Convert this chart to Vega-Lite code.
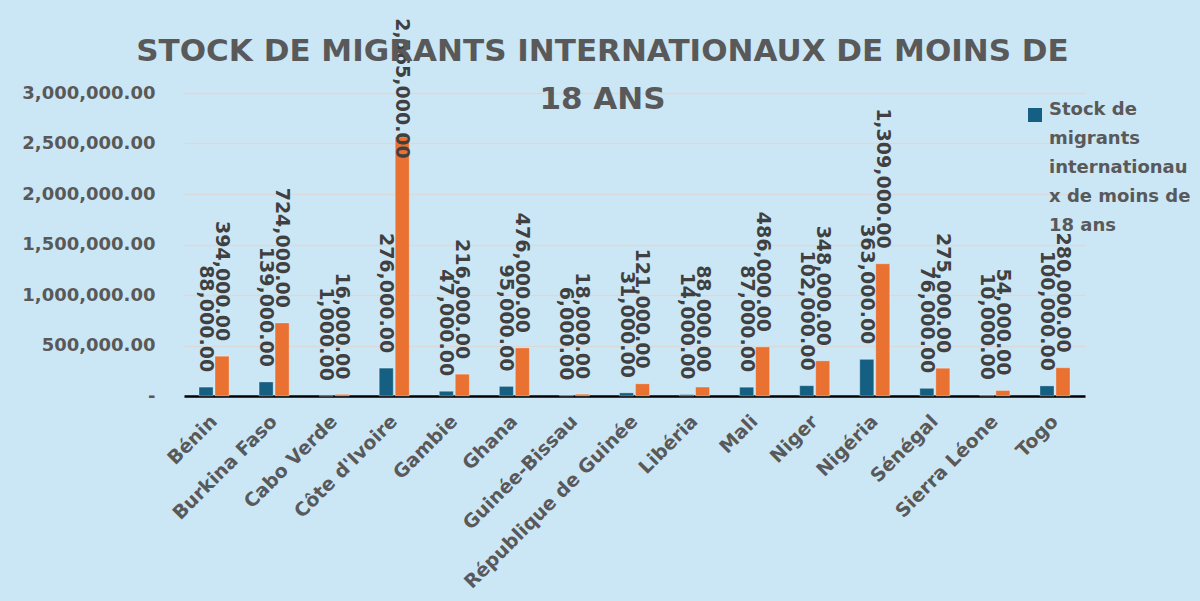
{
  "$schema": "https://vega.github.io/schema/vega-lite/v6.json",
  "autosize": {"type": "none"},
  "width": 901,
  "height": 303,
  "padding": {"left": 184, "top": 93, "right": 115, "bottom": 205},
  "background": "#CBE7F6",
  "title": {
    "text": ["STOCK DE MIGRANTS INTERNATIONAUX DE MOINS DE", "18 ANS"],
    "anchor": "middle",
    "frame": "group",
    "dx": -32,
    "dy": 78,
    "fontSize": 31,
    "fontWeight": "bold",
    "font": "DejaVu Sans",
    "color": "#595959",
    "lineHeight": 48,
    "offset": -20
  },
  "data": {
    "values": [
      {"pays": "Bénin", "serie": "Stock de migrants internationaux de moins de 18 ans", "value": 88000},
      {"pays": "Bénin", "serie": "Série 2", "value": 394000},
      {"pays": "Burkina Faso", "serie": "Stock de migrants internationaux de moins de 18 ans", "value": 139000},
      {"pays": "Burkina Faso", "serie": "Série 2", "value": 724000},
      {"pays": "Cabo Verde", "serie": "Stock de migrants internationaux de moins de 18 ans", "value": 1000},
      {"pays": "Cabo Verde", "serie": "Série 2", "value": 16000},
      {"pays": "Côte d'Ivoire", "serie": "Stock de migrants internationaux de moins de 18 ans", "value": 276000},
      {"pays": "Côte d'Ivoire", "serie": "Série 2", "value": 2565000},
      {"pays": "Gambie", "serie": "Stock de migrants internationaux de moins de 18 ans", "value": 47000},
      {"pays": "Gambie", "serie": "Série 2", "value": 216000},
      {"pays": "Ghana", "serie": "Stock de migrants internationaux de moins de 18 ans", "value": 95000},
      {"pays": "Ghana", "serie": "Série 2", "value": 476000},
      {"pays": "Guinée-Bissau", "serie": "Stock de migrants internationaux de moins de 18 ans", "value": 6000},
      {"pays": "Guinée-Bissau", "serie": "Série 2", "value": 18000},
      {"pays": "République de Guinée", "serie": "Stock de migrants internationaux de moins de 18 ans", "value": 31000},
      {"pays": "République de Guinée", "serie": "Série 2", "value": 121000},
      {"pays": "Libéria", "serie": "Stock de migrants internationaux de moins de 18 ans", "value": 14000},
      {"pays": "Libéria", "serie": "Série 2", "value": 88000},
      {"pays": "Mali", "serie": "Stock de migrants internationaux de moins de 18 ans", "value": 87000},
      {"pays": "Mali", "serie": "Série 2", "value": 486000},
      {"pays": "Niger", "serie": "Stock de migrants internationaux de moins de 18 ans", "value": 102000},
      {"pays": "Niger", "serie": "Série 2", "value": 348000},
      {"pays": "Nigéria", "serie": "Stock de migrants internationaux de moins de 18 ans", "value": 363000},
      {"pays": "Nigéria", "serie": "Série 2", "value": 1309000},
      {"pays": "Sénégal", "serie": "Stock de migrants internationaux de moins de 18 ans", "value": 76000},
      {"pays": "Sénégal", "serie": "Série 2", "value": 275000},
      {"pays": "Sierra Léone", "serie": "Stock de migrants internationaux de moins de 18 ans", "value": 10000},
      {"pays": "Sierra Léone", "serie": "Série 2", "value": 54000},
      {"pays": "Togo", "serie": "Stock de migrants internationaux de moins de 18 ans", "value": 100000},
      {"pays": "Togo", "serie": "Série 2", "value": 280000}
    ]
  },
  "encoding": {
    "x": {
      "field": "pays",
      "type": "nominal",
      "sort": null,
      "title": null,
      "scale": {"paddingInner": 0.5, "paddingOuter": 0.25},
      "axis": {
        "labelAngle": -45,
        "labelAlign": "right",
        "labelBaseline": "middle",
        "labelFont": "DejaVu Sans",
        "labelFontSize": 19,
        "labelFontWeight": "bold",
        "labelColor": "#595959",
        "labelPadding": 22,
        "ticks": false,
        "domainColor": "#000000",
        "domainWidth": 2.5,
        "labelLimit": 400
      }
    },
    "xOffset": {
      "field": "serie",
      "type": "nominal",
      "sort": ["Stock de migrants internationaux de moins de 18 ans", "Série 2"],
      "scale": {"paddingInner": 0.12}
    }
  },
  "layer": [
    {
      "mark": {"type": "bar", "stroke": "#ffffff", "strokeOpacity": 0.3, "strokeWidth": 1},
      "encoding": {
        "y": {
          "field": "value",
          "type": "quantitative",
          "title": null,
          "scale": {"domain": [0, 3000000]},
          "axis": {
            "values": [0, 500000, 1000000, 1500000, 2000000, 2500000, 3000000],
            "labelExpr": "datum.value == 0 ? '-\u2002' : format(datum.value, ',.2f')",
            "labelFont": "DejaVu Sans",
            "labelFontSize": 18,
            "labelFontWeight": "bold",
            "labelColor": "#595959",
            "labelPadding": 29,
            "ticks": false,
            "domain": false,
            "gridColor": "#D9D9D9",
            "gridWidth": 1.5
          }
        },
        "color": {
          "field": "serie",
          "type": "nominal",
          "scale": {
            "domain": ["Stock de migrants internationaux de moins de 18 ans", "Série 2"],
            "range": ["#156082", "#E97132"]
          },
          "legend": {
            "values": ["Stock de migrants internationaux de moins de 18 ans"],
            "title": null,
            "orient": "none",
            "legendX": 842,
            "legendY": 13,
            "symbolType": "square",
            "symbolSize": 196,
            "symbolStrokeWidth": 0,
            "symbolOpacity": 1,
            "labelFont": "DejaVu Sans",
            "labelFontSize": 18,
            "labelFontWeight": "bold",
            "labelColor": "#595959",
            "labelLimit": 300,
            "labelBaseline": "alphabetic",
            "labelOffset": 5,
            "labelExpr": "['Stock de', 'migrants', 'internationau', 'x de moins de', '18 ans']",
            "encode": {"labels": {"update": {"lineHeight": {"value": 29}, "dy": {"value": 10}}}}
          }
        }
      }
    },
    {
      "transform": [{"calculate": "min(datum.value, 2200000)", "as": "label_y"}],
      "mark": {
        "type": "text",
        "angle": 90,
        "align": "right",
        "baseline": "middle",
        "dx": -15,
        "font": "DejaVu Sans",
        "fontSize": 19,
        "fontWeight": "bold",
        "color": "#404040"
      },
      "encoding": {
        "y": {"field": "label_y", "type": "quantitative", "scale": {"domain": [0, 3000000]}},
        "text": {"field": "value", "type": "quantitative", "format": ",.2f"}
      }
    }
  ],
  "config": {
    "view": {"stroke": null},
    "style": {"guide-label": {"lineHeight": 29}}
  }
}
